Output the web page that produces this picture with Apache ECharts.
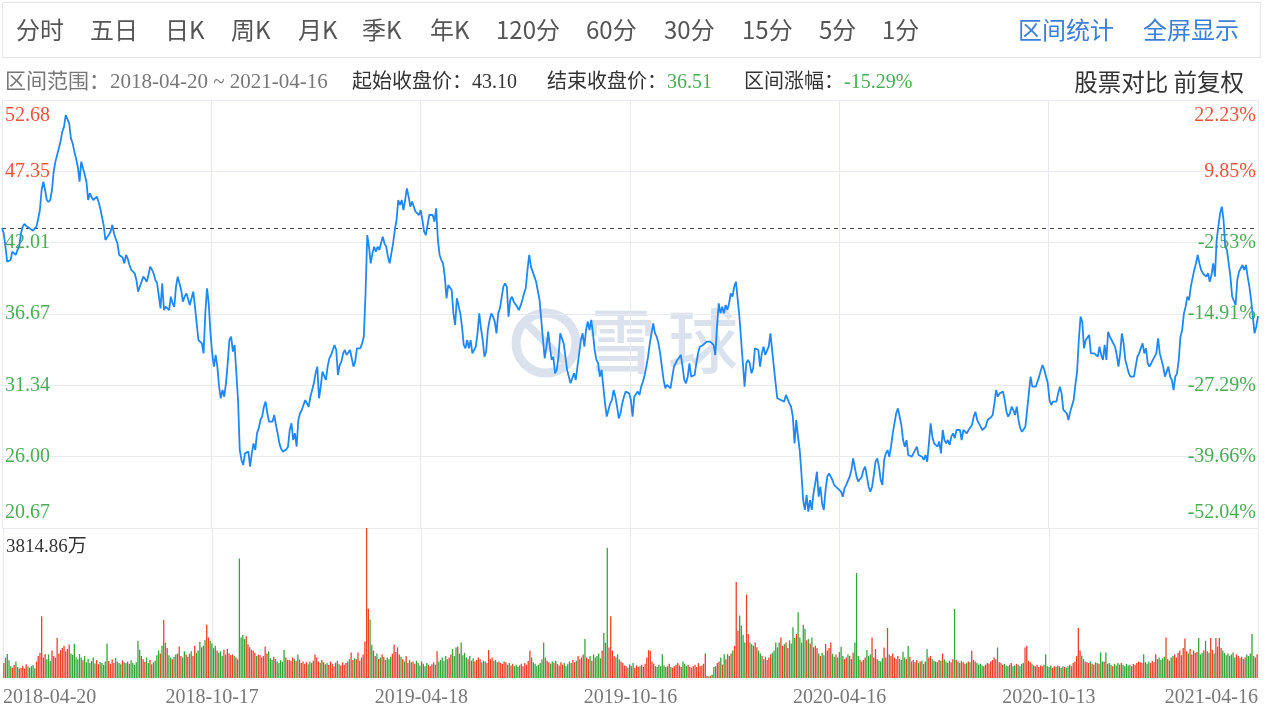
<!DOCTYPE html>
<html>
<head>
<meta charset="utf-8">
<script src="https://cdn.jsdelivr.net/npm/echarts/dist/echarts.min.js"></script>
<style>
html,body{margin:0;padding:0;background:#fff;}
body{width:1266px;height:714px;position:relative;overflow:hidden;font-family:"Noto Sans CJK SC",sans-serif;}
#chart{position:absolute;left:0;top:0;width:1266px;height:714px;}
.tb{position:absolute;top:2px;left:2px;width:1259px;height:56px;border:1px solid #e6e6ea;box-sizing:border-box;z-index:2;}
.t{position:absolute;top:11px;font-size:24px;line-height:36px;color:#555;white-space:nowrap;z-index:3;}
.b{color:#3d7fd6;}
.info{position:absolute;top:67px;font-size:20px;line-height:28px;white-space:nowrap;z-index:3;font-family:"Liberation Serif","Noto Sans CJK SC",serif;}
.g{color:#777;font-size:21px;}
.d{color:#333;}
.gr{color:#4cab55;}
.rt{position:absolute;top:65px;right:22px;font-size:23.5px;line-height:32px;color:#333;z-index:3;white-space:nowrap;}
</style>
</head>
<body>
<div class="tb"></div>
<span class="t" style="left:16px">分时</span>
<span class="t" style="left:90px">五日</span>
<span class="t" style="left:165px">日K</span>
<span class="t" style="left:231px">周K</span>
<span class="t" style="left:298px">月K</span>
<span class="t" style="left:362px">季K</span>
<span class="t" style="left:430px">年K</span>
<span class="t" style="left:496px">120分</span>
<span class="t" style="left:586px">60分</span>
<span class="t" style="left:664px">30分</span>
<span class="t" style="left:742px">15分</span>
<span class="t" style="left:819px">5分</span>
<span class="t" style="left:882px">1分</span>
<span class="t b" style="left:1018px">区间统计</span>
<span class="t b" style="left:1143px">全屏显示</span>
<span class="info g" style="left:5px">区间范围：2018-04-20 ~ 2021-04-16</span>
<span class="info d" style="left:352px">起始收盘价：43.10</span>
<span class="info d" style="left:547px">结束收盘价：<span class="gr">36.51</span></span>
<span class="info d" style="left:744px">区间涨幅：<span class="gr">-15.29%</span></span>
<span class="rt">股票对比 前复权</span>
<div id="chart"></div>
<script>
const tickLabels = ['2018-04-20','2018-10-17','2019-04-18','2019-10-16','2020-04-16','2020-10-13','2021-04-16'];
const leftTicks = ['20.67','26.00','31.34','36.67','42.01','47.35','52.68'];
const rightTicks = ['-52.04%','-39.66%','-27.29%','-14.91%','-2.53%','9.85%','22.23%'];

const closes = [
43.10,42.71,41.71,40.59,40.50,40.71,41.34,41.21,41.10,41.46,
41.71,42.71,43.20,43.41,43.26,43.15,43.08,42.95,42.91,43.05,
43.21,43.80,44.45,45.95,46.57,45.95,45.20,45.05,45.20,45.95,
47.32,48.07,48.19,49.07,49.60,50.31,50.69,51.56,51.68,50.93,
49.81,49.44,48.82,48.30,47.69,46.57,48.07,47.57,47.10,46.57,
45.20,45.70,45.40,45.20,45.33,45.45,45.10,44.58,44.45,43.33,
42.21,42.33,42.60,42.83,43.33,42.71,42.30,41.96,41.09,41.21,
40.90,40.46,41.09,40.80,40.34,39.97,39.85,39.72,39.22,38.35,
38.47,39.09,39.47,39.30,39.09,39.59,40.22,40.00,39.72,39.22,
39.00,39.09,37.10,38.97,36.97,37.22,37.10,36.97,37.97,37.47,
37.22,38.72,39.47,39.59,38.47,37.60,37.97,38.22,37.80,37.35,
37.47,38.35,37.22,35.98,34.73,34.86,34.48,33.73,36.72,38.60,
37.47,35.23,33.73,32.74,33.61,32.74,31.24,30.37,30.99,30.49,
31.49,32.99,34.73,34.98,33.86,34.36,34.36,30.24,26.50,25.76,
25.38,26.25,26.38,26.38,25.26,26.25,27.00,26.50,27.75,28.12,
28.75,29.00,29.74,30.12,29.25,28.62,28.50,28.62,29.12,28.37,
27.75,27.00,26.60,26.38,26.38,26.55,26.75,28.00,28.50,27.25,
27.75,26.75,28.75,29.25,29.50,29.87,30.24,30.12,29.74,30.49,
30.99,31.49,32.24,32.74,30.37,31.24,32.36,32.24,31.74,32.74,
33.36,33.61,33.61,34.36,33.98,32.11,32.86,33.11,33.73,33.98,
33.61,33.48,33.98,34.11,32.74,33.11,34.11,34.23,34.11,34.48,
34.98,38.22,42.58,41.71,40.46,41.21,41.71,41.34,41.71,41.46,
41.96,42.46,41.96,41.71,40.96,40.46,41.21,41.96,42.96,43.71,
45.20,44.83,45.20,44.45,45.20,46.07,45.45,44.70,45.08,45.20,
44.33,44.20,44.08,44.45,43.71,42.83,42.58,43.33,44.08,44.20,
44.08,43.58,44.58,42.21,41.09,40.71,40.46,39.47,37.85,38.84,
38.97,38.47,36.72,35.85,37.85,37.72,36.72,35.73,34.36,34.11,
34.73,34.11,34.73,33.73,33.73,34.23,35.23,36.72,35.60,34.73,
33.48,33.86,35.48,36.23,36.72,36.48,36.10,35.23,36.72,37.10,
37.22,38.72,38.97,38.72,36.48,37.72,37.97,37.60,37.47,37.22,
36.97,37.30,37.72,38.22,38.60,39.97,41.09,40.22,40.09,39.47,
39.09,38.97,37.72,36.23,34.73,33.36,34.23,35.35,34.23,33.24,
33.48,32.24,32.49,33.48,35.23,35.35,34.48,33.48,32.49,31.99,
31.49,31.61,32.24,31.74,32.74,33.73,34.73,35.23,34.23,35.48,
36.10,35.48,36.23,35.23,33.98,33.24,32.99,31.99,32.49,31.24,
29.99,29.00,29.50,29.99,30.24,30.99,30.49,29.74,28.87,29.25,
29.99,30.49,30.87,30.74,30.74,30.24,29.00,30.49,30.49,30.87,
30.62,31.24,31.61,32.11,32.74,33.48,34.48,35.23,35.98,35.23,
34.98,34.48,33.73,32.74,31.74,31.12,31.37,31.49,31.12,31.24,
32.74,32.99,33.24,33.24,33.61,32.74,31.74,31.49,31.99,32.99,
31.99,31.99,32.11,32.99,33.73,34.23,34.23,34.36,34.48,34.61,
34.48,34.61,34.48,34.36,33.61,35.73,37.47,36.72,37.22,36.72,
37.35,36.97,37.47,38.22,37.97,38.72,39.09,39.22,36.48,34.73,
32.99,31.24,32.99,33.24,32.99,32.24,32.61,34.11,34.11,33.98,
32.74,33.73,34.23,33.61,33.73,34.23,35.23,33.98,32.74,31.49,
30.37,30.24,30.24,30.37,30.12,30.62,30.74,29.99,29.74,29.00,
27.00,28.75,27.50,26.50,24.76,22.76,22.02,23.14,21.89,22.76,
22.02,23.26,24.01,24.88,23.01,23.76,22.51,22.02,23.51,24.51,
24.76,24.76,24.26,23.89,24.01,23.64,23.50,23.39,23.01,23.64,
23.89,23.76,24.51,25.01,25.88,25.76,24.51,24.14,24.26,24.51,
25.01,25.26,24.51,23.76,23.39,23.76,24.63,25.63,25.88,25.26,
24.26,23.89,25.76,26.25,26.50,26.00,26.75,27.75,28.50,29.25,
29.62,29.50,28.37,27.25,26.75,27.25,26.13,26.13,26.00,26.25,
26.25,26.75,26.13,26.13,26.00,25.76,26.13,25.63,27.00,28.50,
27.50,27.00,27.00,26.75,27.13,26.25,28.00,27.25,27.00,27.25,
26.88,27.50,27.75,27.38,28.00,27.87,28.00,27.25,28.00,28.00,
27.75,28.00,27.87,28.37,29.00,29.37,28.75,28.50,28.25,28.00,
28.00,28.25,28.75,28.75,28.95,29.12,29.99,30.99,30.49,30.74,
30.74,30.87,30.24,29.37,29.00,29.25,29.74,29.50,29.12,29.74,
28.75,28.12,27.87,27.75,28.25,29.50,30.74,31.99,31.24,31.24,
31.24,31.37,31.99,32.49,32.86,32.49,32.36,31.49,30.24,29.87,
30.12,30.24,30.12,30.74,31.24,30.74,29.50,29.50,29.25,28.75,
29.37,29.25,30.24,31.37,32.36,34.73,36.48,36.10,34.11,34.73,
34.73,35.10,33.73,33.73,33.73,33.61,33.48,34.23,33.61,33.24,
34.36,33.24,35.35,34.98,34.73,34.86,34.23,33.61,32.74,33.73,
35.23,34.48,33.24,32.74,32.24,31.99,31.99,31.99,32.74,33.48,
33.73,34.11,34.48,33.73,34.11,32.99,32.74,32.99,33.24,33.24,
33.73,34.86,33.73,33.61,32.74,31.99,31.99,32.74,31.99,31.74,
30.99,31.99,32.24,33.24,34.98,35.48,36.72,37.22,37.97,37.72,
38.72,38.84,39.97,40.46,41.09,40.46,39.97,39.72,39.84,39.47,
39.72,39.09,39.59,40.46,39.47,42.21,43.21,44.20,44.70,43.71,
41.71,41.46,40.46,39.47,37.97,37.85,37.35,39.22,39.84,39.97,
40.34,39.97,40.34,39.47,38.72,37.72,36.48,35.23,35.73,36.51
];

const volumes = [
380,520,610,450,300,260,330,420,280,240,
260,310,240,350,290,260,300,330,250,420,
560,640,1570,520,610,480,600,430,700,560,
520,1015,620,710,760,820,680,740,850,620,
590,870,530,480,610,520,450,560,400,490,
380,430,520,370,460,350,410,380,330,420,
880,430,360,470,390,510,420,380,350,450,
400,380,420,360,450,380,330,400,950,720,
560,480,410,520,380,460,350,400,440,580,
700,620,820,1476,900,760,580,520,480,540,
600,620,800,560,520,680,600,540,620,680,
560,820,640,700,920,780,820,960,1357,1033,
950,880,760,820,700,640,680,560,720,600,
740,620,580,600,560,520,480,3038,1033,1093,
990,1060,860,780,720,700,640,560,600,580,
520,560,800,620,680,500,460,540,480,420,
380,450,410,710,520,460,460,440,520,480,
430,600,470,380,420,360,400,350,420,380,
440,600,520,420,380,460,400,350,380,330,
420,360,300,390,440,350,320,400,340,380,
420,480,650,460,500,480,650,440,520,600,
930,3814.86,1760,1490,845,700,560,620,480,520,
600,540,460,520,480,540,620,845,660,780,
600,540,480,420,560,380,460,400,420,360,
440,380,320,420,360,300,380,340,300,350,
400,340,682,420,460,520,440,560,480,520,
600,735,560,775,800,620,905,580,640,520,
480,560,440,500,420,460,520,480,400,440,
420,380,710,480,520,440,460,400,420,380,
360,420,400,340,380,320,360,300,340,280,
320,360,300,380,340,440,690,520,400,360,
300,340,380,480,905,520,440,400,360,420,
380,440,360,320,400,340,380,300,360,420,
380,460,400,440,560,480,520,600,990,520,
480,560,440,600,520,560,620,500,700,1144,
900,3312,777,1570,700,560,520,600,480,420,
380,320,300,260,340,300,380,260,320,280,
300,340,280,360,520,710,690,420,360,300,
280,340,300,606,320,280,300,360,280,260,
300,340,380,320,280,420,360,300,340,280,
260,300,340,280,380,300,320,360,622,50,
40,60,80,280,300,380,420,520,340,606,
480,606,560,620,700,820,2440,1200,1587,1332,
1100,900,2125,1118,900,860,820,900,780,700,
620,560,480,540,460,520,600,640,700,905,
780,905,1033,820,860,900,760,960,880,1289,
1020,1118,1673,1033,900,1357,1250,960,990,880,
1033,780,820,760,620,560,640,580,862,700,
760,905,620,540,600,520,660,795,560,480,
520,600,560,480,640,905,2671,560,460,420,
460,520,710,560,600,1033,520,735,480,440,
420,500,777,520,1272,600,560,620,520,480,
560,480,460,666,520,480,820,540,420,460,
400,460,380,420,440,360,420,735,520,560,
480,440,420,400,460,440,622,480,420,380,
440,400,480,1758,460,420,380,440,400,360,
380,420,400,690,460,420,380,340,360,320,
300,340,380,360,420,460,520,480,777,400,
380,340,360,320,300,340,380,300,320,360,
340,300,360,380,777,820,440,400,360,320,
300,340,280,320,300,340,606,300,280,320,
260,300,280,320,300,260,300,280,260,300,
340,300,380,420,560,1272,700,560,480,420,
400,380,420,360,340,400,380,360,650,420,
420,650,360,380,340,300,360,320,380,340,
380,340,300,360,320,340,300,360,340,380,
420,400,380,606,400,360,420,380,440,400,
606,480,520,460,500,540,1032,480,440,520,
560,600,520,640,700,580,760,1007,680,620,
740,600,700,640,660,1015,600,640,700,947,
680,640,1015,720,620,1015,800,1015,760,700,
640,580,620,560,600,650,520,600,560,500,
540,480,520,600,560,620,1118,560,520,606
];

const RED = '#e8553f', GREEN = '#4cab55';
const BAR_RED = '#ec3f2c', BAR_GREEN = '#34a53a';
const gridColor = '#e9e9f0';
const WM = '#dce2ed';
const serif = '"Liberation Serif","Noto Sans CJK SC",serif';

const days = closes.map((_, i) => i);
const priceMin = Number(leftTicks[0]);
const priceMax = Number(leftTicks[leftTicks.length - 1]);
const basePrice = closes[0];
const volMax = Math.max(...volumes);
const lastTick = leftTicks.length - 1;

function tickText(arr) {
  return function (v) {
    const i = Math.round(v);
    if (i === lastTick) return '\n' + arr[i];
    if (i === 0) return arr[i] + '\n';
    return arr[i];
  };
}
function tickColor(v) {
  return Number(leftTicks[Math.round(v)]) > basePrice ? RED : GREEN;
}

const chart = echarts.init(document.getElementById('chart'));
chart.setOption({
  animation: false,
  grid: [
    {left: 2, top: 100, width: 1256, height: 428},
    {left: 2, top: 528, width: 1256, height: 150}
  ],
  xAxis: [
    {type: 'category', gridIndex: 0, data: days, boundaryGap: false, show: false},
    {type: 'value', gridIndex: 0, min: 0, max: 6, interval: 1, position: 'top',
      axisLine: {show: false}, axisTick: {show: false}, axisLabel: {show: false},
      splitLine: {show: true, lineStyle: {color: gridColor, width: 1}}},
    {type: 'category', gridIndex: 1, data: days, boundaryGap: true, show: false},
    {type: 'value', gridIndex: 1, min: 0, max: 6, interval: 1, position: 'bottom',
      axisLine: {show: false}, axisTick: {show: false},
      splitLine: {show: true, lineStyle: {color: gridColor, width: 1}},
      axisLabel: {formatter: v => tickLabels[Math.round(v)], alignMinLabel: 'left', alignMaxLabel: 'right',
        color: '#777', fontFamily: serif, fontSize: 20, margin: 10}}
  ],
  yAxis: [
    {type: 'value', gridIndex: 0, min: priceMin, max: priceMax, show: false},
    {type: 'value', gridIndex: 0, min: 0, max: 6, interval: 1, position: 'left',
      axisLine: {show: false}, axisTick: {show: false},
      splitLine: {show: true, lineStyle: {color: gridColor, width: 1}},
      axisLabel: {inside: true, margin: 3, formatter: tickText(leftTicks), color: tickColor,
        fontFamily: serif, fontSize: 20, lineHeight: 31}},
    {type: 'value', gridIndex: 0, min: 0, max: 6, interval: 1, position: 'right',
      axisLine: {show: false}, axisTick: {show: false}, splitLine: {show: false},
      axisLabel: {inside: true, margin: 2, formatter: tickText(rightTicks), color: tickColor,
        fontFamily: serif, fontSize: 20, lineHeight: 31}},
    {type: 'value', gridIndex: 1, min: 0, max: volMax, interval: volMax, position: 'left',
      axisLine: {show: false}, axisTick: {show: false}, splitLine: {show: false},
      axisLabel: {inside: true, margin: 3, color: '#333', fontFamily: serif, fontSize: 19, lineHeight: 38,
        formatter: v => v > 0 ? '\n' + volMax.toFixed(2) + '万' : ''}}
  ],
  graphic: [
    {type: 'circle', silent: true, z: 0, shape: {cx: 546, cy: 343, r: 30},
      style: {fill: 'none', stroke: WM, lineWidth: 9}},
    {type: 'line', silent: true, z: 0, shape: {x1: 527, y1: 324, x2: 565, y2: 362},
      style: {stroke: WM, lineWidth: 8}},
    {type: 'text', silent: true, z: 0, left: 586, top: 306,
      style: {text: '雪', fill: WM, font: '500 70px "Noto Sans CJK SC"'}},
    {type: 'text', silent: true, z: 0, left: 668, top: 306,
      style: {text: '球', fill: WM, font: '500 70px "Noto Sans CJK SC"'}}
  ],
  series: [
    {type: 'line', name: 'close', xAxisIndex: 0, yAxisIndex: 0, data: closes, showSymbol: false,
      symbol: 'none', z: 5,
      lineStyle: {color: '#1e88f5', width: 1.8},
      markLine: {silent: true, symbol: 'none', label: {show: false},
        lineStyle: {color: '#444', width: 1, type: [4, 4]},
        data: [{yAxis: basePrice}]}},
    {type: 'bar', name: 'volume', xAxisIndex: 2, yAxisIndex: 3, data: volumes,
      barCategoryGap: '25%',
      itemStyle: {color: p => {
        const i = p.dataIndex;
        const prev = i > 0 ? closes[i - 1] : basePrice;
        return closes[i] >= prev ? BAR_RED : BAR_GREEN;
      }}}
  ]
});
</script>
</body>
</html>
